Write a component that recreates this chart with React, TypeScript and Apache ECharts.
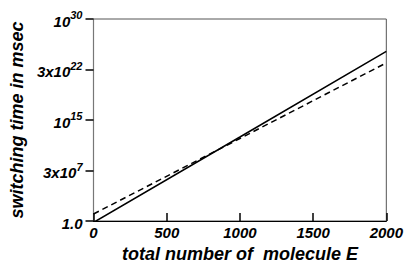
import React, { useEffect, useRef } from "react";
import * as echarts from "echarts";

const moleculeCounts = [0, 1000, 2000];
const solidTimes = [0.6, 3e12, 1.6e25];
const dashedTimes = [11, 1.8e12, 3e23];
const yTickValues = [1, 3e7, 1e15, 3e22, 1e30];
const yTickLabels = ["{b|1.0}", "{b|3x10}{s|7}", "{b|10}{s|15}", "{b|3x10}{s|22}", "{b|10}{s|30}"];
const xTitle = "total number of  molecule E";
const yTitle = "switching time in msec";

const FONT = "'Liberation Sans', Arial, Helvetica, sans-serif";

export default function App() {
  const ref = useRef<HTMLDivElement>(null);
  useEffect(() => {
    if (!ref.current) return;
    const chart = echarts.init(ref.current, undefined, { renderer: "svg" });
    const logTicks = yTickValues.map((v) => Math.log10(v));
    const toPairs = (ys: number[]) => moleculeCounts.map((x, i) => [x, Math.log10(ys[i])]);
    chart.setOption({
      animation: false,
      backgroundColor: "#ffffff",
      grid: { left: 88, right: 18, top: 19, bottom: 56, show: true, borderColor: "#555", borderWidth: 1 },
      xAxis: {
        type: "value",
        min: 0,
        max: 2000,
        interval: 500,
        name: xTitle,
        nameLocation: "middle",
        nameGap: 17,
        nameTextStyle: { fontFamily: FONT, fontSize: 18, fontWeight: "bold", fontStyle: "italic", color: "#000" },
        axisLine: { lineStyle: { color: "#000", width: 1.2 } },
        axisTick: { inside: true, length: 8, lineStyle: { color: "#000", width: 1.5 } },
        axisLabel: {
          fontFamily: FONT, fontSize: 15, fontWeight: "bold", fontStyle: "italic", color: "#000", margin: 4,
          formatter: (v: number) => String(v),
        },
        splitLine: { show: false },
      },
      yAxis: {
        type: "value",
        min: 0,
        max: 30,
        name: yTitle,
        nameLocation: "middle",
        nameGap: 64,
        nameTextStyle: { fontFamily: FONT, fontSize: 18, fontWeight: "bold", fontStyle: "italic", color: "#000" },
        axisLine: { show: true, lineStyle: { color: "#777", width: 1.2 } },
        axisTick: { show: true, length: 8, customValues: logTicks, lineStyle: { color: "#000", width: 1.5 } },
        axisLabel: {
          customValues: logTicks,
          margin: 11,
          formatter: (v: number) => {
            const i = logTicks.findIndex((t) => Math.abs(t - v) < 1e-6);
            return i >= 0 ? yTickLabels[i] : "";
          },
          rich: {
            b: { fontFamily: FONT, fontSize: 15, fontWeight: "bold", fontStyle: "italic", color: "#000", lineHeight: 19, verticalAlign: "bottom" },
            s: { fontFamily: FONT, fontSize: 11, fontWeight: "bold", fontStyle: "italic", color: "#000", lineHeight: 12, verticalAlign: "top" },
          },
        },
        splitLine: { show: false },
      },
      series: [
        {
          type: "line",
          data: toPairs(solidTimes),
          showSymbol: false,
          symbol: "none",
          lineStyle: { color: "#000", width: 1.5, type: "solid" },
          clip: true,
        },
        {
          type: "line",
          data: toPairs(dashedTimes),
          showSymbol: false,
          symbol: "none",
          lineStyle: { color: "#000", width: 1.5, type: [6, 4] },
          clip: true,
        },
      ],
    });
    return () => chart.dispose();
  }, []);
  return <div ref={ref} style={{ position: "fixed", left: 0, top: 0, width: 406, height: 277, background: "#fff" }} />;
}
